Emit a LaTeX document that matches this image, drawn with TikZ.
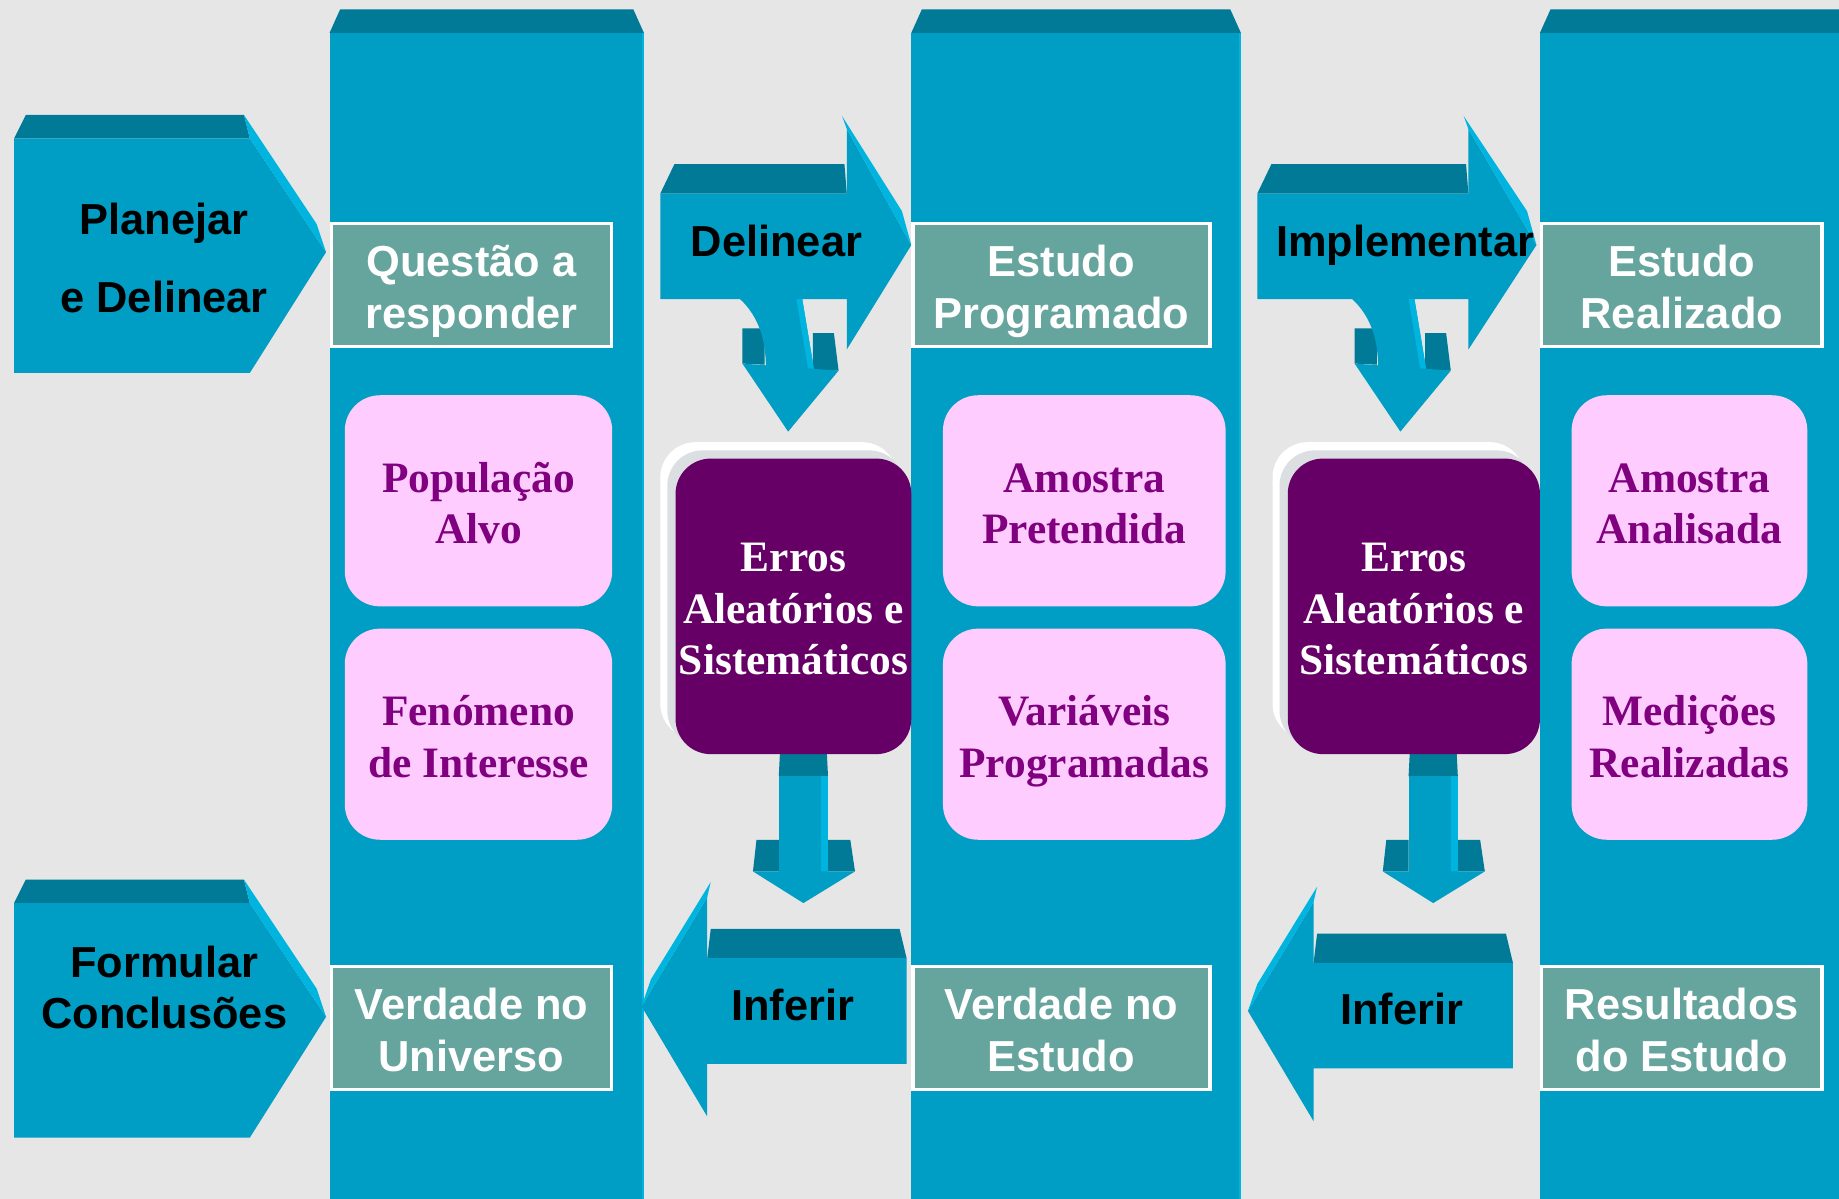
\documentclass[tikz,border=0pt]{standalone}
\usepackage{fontspec}
\setmainfont{Liberation Serif}
\newfontfamily\sansf{Liberation Sans}
\definecolor{bgc}{RGB}{230,230,230}
\definecolor{blu}{RGB}{0,157,196}
\definecolor{topc}{RGB}{0,122,150}
\definecolor{lite}{RGB}{0,180,224}
\definecolor{tealc}{RGB}{102,164,158}
\definecolor{pinkc}{RGB}{255,204,255}
\definecolor{purpt}{RGB}{128,0,128}
\definecolor{purpb}{RGB}{102,0,102}
\definecolor{shg}{RGB}{220,223,226}
\newcommand\ColShape[2]{%
  \fill[topc] (#1+9,8) -- (#2-9,8) -- (#2,28) -- (#1,28) -- cycle;
  \fill[blu] (#1,28) rectangle (#2,1030);
  \fill[lite] (#2-2,28) rectangle (#2,1030);
}
\newcommand\Penta[1]{%
  \fill[topc] (22,#1) -- (208,#1) -- (213,#1+20) -- (12,#1+20) -- cycle;
  \fill[blu] (12,#1+20) -- (213,#1+20) -- (278,#1+117) -- (213,#1+220) -- (12,#1+220) -- cycle;
  \fill[lite] (208,#1) -- (270,#1+93) -- (278,#1+117) -- (213,#1+20) -- cycle;
}
\newcommand\RArrow[3]{% left x, head back x, tip offset
  \fill[topc] (#1+12,140) -- (#2-2,140) -- (#2,165) -- (#1,165) -- cycle;
  \fill[blu] (#1,165) -- (#2,165) -- (#2,110) -- (#2+#3,209) -- (#2,298) -- (#2,255) -- (#1,255) -- cycle;
  \fill[lite] (#2-4,99) -- (#2+#3-8,180) -- (#2+#3,209) -- (#2,110) -- cycle;
}
\newcommand\LArrow[2]{%
  \fill[topc] (#2+3,792) -- (#1-6,792) -- (#1,817) -- (#2,817) -- cycle;
  \fill[blu] (#1,817) -- (#2,817) -- (#2,765) -- (#2-56,858) -- (#2,952) -- (#2,907) -- (#1,907) -- cycle;
  \fill[lite] (#2+3,752) -- (#2-48,835) -- (#2-56,858) -- (#2,765) -- cycle;
}
\newcommand\CArrow{%
  \fill[topc] (633,280) -- (652,280) -- (652,311) -- (633,310) -- cycle;
  \fill[topc] (693,284) -- (711,284) -- (715,316) -- (693,316) -- cycle;
  \fill[blu] (631,255) .. controls (647,270) and (653,290) .. (653,313) -- (694,315) -- (684,255) -- cycle;
  \fill[lite] (679,255) -- (684,255) -- (694,315) -- (689,315) -- cycle;
  \fill[blu] (633,310) -- (715,316) -- (672,368) -- cycle;
}
\newcommand\DArrow{%
  \fill[topc] (665,642) -- (705,642) -- (706,662) -- (664,662) -- cycle;
  \fill[topc] (645,716) -- (664,716) -- (664,743) -- (642,743) -- cycle;
  \fill[topc] (706,716) -- (725,716) -- (729,743) -- (706,743) -- cycle;
  \fill[blu] (664,662) rectangle (706,745);
  \fill[lite] (700,662) rectangle (706,745);
  \fill[blu] (642,743) -- (729,743) -- (685,770) -- cycle;
}
\begin{document}
\begin{tikzpicture}[x=1pt,y=-1pt,
  blk/.style={font=\sansf\bfseries\fontsize{37}{44}\selectfont, text=black, align=center, inner sep=0pt},
  lbl/.style={fill=tealc, draw=white, line width=3pt, minimum width=239pt, minimum height=105pt, inner sep=0pt},
  lbltxt/.style={font=\sansf\bfseries\fontsize{37}{44}\selectfont, text=white, align=center, inner sep=0pt, yshift=-6pt},
  pinkbox/.style={fill=pinkc, rounded corners=30pt, minimum height=180pt, inner sep=0pt},
  pinktxt/.style={font=\bfseries\fontsize{37}{44}\selectfont, text=purpt, align=center, inner sep=0pt, yshift=-5.7pt},
  errbox/.style={fill=purpb, rounded corners=30pt, minimum height=252pt, inner sep=0pt},
  errtxt/.style={font=\bfseries\fontsize{37}{44}\selectfont, text=white, align=center, inner sep=0pt, yshift=-5.7pt}]
\useasboundingbox (0,0) rectangle (1568,1022);
\clip (0,0) rectangle (1568,1022);
\fill[bgc] (0,0) rectangle (1568,1022);
% columns
\ColShape{281}{549}
\ColShape{777}{1058}
\ColShape{1313}{1600}
% left pentagons
\Penta{98}
\Penta{750}
\node[blk] (pd) at (140,220) {Planejar\\[23pt]e Delinear};
\node[blk] (fc) at (140,842) {Formular\\Conclusões};
% right arrows
\RArrow{563}{722}{55}
\CArrow
\node[blk] (del) at (662,209.5) {\strut Delinear};
\RArrow{1072}{1252}{58}
\begin{scope}[shift={(522,0)}]\CArrow\end{scope}
\node[blk] (imp) at (1198,209.5) {\strut Implementar};
% left arrows
\LArrow{773}{603}
\node[blk] (inf1) at (676,861.5) {\strut Inferir};
\begin{scope}[shift={(0,4)}]\LArrow{1290}{1120}\end{scope}
\node[blk] (inf2) at (1195,864.5) {\strut Inferir};
% label boxes
\node[lbl] (q) at (402,243) {};
\node[lbltxt] (qt) at (q.center) {\strut Questão a\\\strut responder};
\node[lbl, minimum width=253pt] (ep) at (905,243) {};
\node[lbltxt] (ept) at (ep.center) {\strut Estudo\\\strut Programado};
\node[lbl] (er) at (1434,243) {};
\node[lbltxt] (ert) at (er.center) {\strut Estudo\\\strut Realizado};
\node[lbl] (vu) at (402,876.5) {};
\node[lbltxt] (vut) at (vu.center) {\strut Verdade no\\\strut Universo};
\node[lbl, minimum width=253pt] (ve) at (905,876.5) {};
\node[lbltxt] (vet) at (ve.center) {\strut Verdade no\\\strut Estudo};
\node[lbl] (re) at (1434,876.5) {};
\node[lbltxt] (ret) at (re.center) {\strut Resultados\\\strut do Estudo};
% pink boxes
\node[pinkbox, minimum width=228pt] (pa) at (408,427) {};
\node[pinktxt] (pat) at (pa.center) {\strut População\\\strut Alvo};
\node[pinkbox, minimum width=228pt] (fi) at (408,626) {};
\node[pinktxt] (fit) at (fi.center) {\strut Fenómeno\\\strut de Interesse};
\node[pinkbox, minimum width=241pt] (ap) at (924.5,427) {};
\node[pinktxt] (apt) at (ap.center) {\strut Amostra\\\strut Pretendida};
\node[pinkbox, minimum width=241pt] (vp) at (924.5,626) {};
\node[pinktxt] (vpt) at (vp.center) {\strut Variáveis\\\strut Programadas};
\node[pinkbox, minimum width=201pt] (aa) at (1440.5,427) {};
\node[pinktxt] (aat) at (aa.center) {\strut Amostra\\\strut Analisada};
\node[pinkbox, minimum width=201pt] (mr) at (1440.5,626) {};
\node[pinktxt] (mrt) at (mr.center) {\strut Medições\\\strut Realizadas};
% error boxes with down arrows
\DArrow
\begin{scope}[shift={(537,0)}]\DArrow\end{scope}
\fill[white, rounded corners=30pt] (563,377) rectangle (765,630);
\fill[shg, rounded corners=30pt] (569,384) rectangle (771,636);
\node[errbox, minimum width=201pt] (e1) at (676.5,517) {};
\node[errtxt] (e1t) at (e1.center) {\strut Erros\\\strut Aleatórios e\\\strut Sistemáticos};
\fill[white, rounded corners=30pt] (1085,377) rectangle (1300,630);
\fill[shg, rounded corners=30pt] (1091,384) rectangle (1306,636);
\node[errbox, minimum width=215pt] (e2) at (1205.5,517) {};
\node[errtxt] (e2t) at (e2.center) {\strut Erros\\\strut Aleatórios e\\\strut Sistemáticos};
\end{tikzpicture}
\end{document}
